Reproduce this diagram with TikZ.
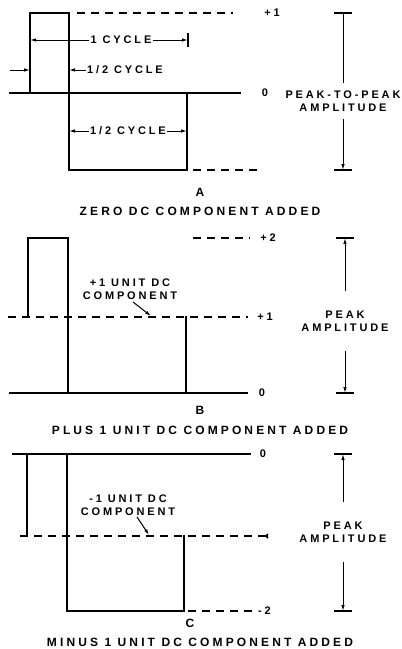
\documentclass[tikz,border=0pt]{standalone}
\usepackage{fontspec}
\newfontfamily\lett[LetterSpace=26]{Liberation Sans}
\usetikzlibrary{arrows.meta}
\tikzset{
  wave/.style={line width=1.7pt, line cap=rect},
  dline/.style={line width=1.3pt, dash pattern=on 8pt off 6pt},
  dim/.style={line width=1pt, -{Latex[length=6pt,width=3.5pt]}},
  tick/.style={line width=1.5pt},
  lbl/.style={inner sep=1pt, font=\lett\bfseries\fontsize{11}{13}\selectfont, align=center},
  ttl/.style={inner sep=1pt, font=\lett\bfseries\fontsize{12}{14}\selectfont, align=center},
}
\begin{document}
\begin{tikzpicture}[x=1pt,y=-1pt]
\useasboundingbox (0,0) rectangle (402,649);

% ================= Panel A =================
\draw[wave] (10,93) -- (240,93);
\draw[wave] (30,93) -- (30,13) -- (69,13) -- (69,170) -- (187,170) -- (187,93);
\draw[dline] (77,13) -- (233,13);
\draw[dline] (193,170) -- (258,170);
\node[lbl] (ap1) at (272,13) {+1};
\node[lbl] (az) at (265,93) {0};
% 1 cycle
\node[lbl] (cyc) at (121,40) {1 CYCLE};
\coordinate (cycL) at (30,40); \coordinate (cycR) at (188,40);
\draw[dim] (cyc.west) -- (cycL);
\draw[dim] (cyc.east) -- (cycR);
\draw[tick] (188,33) -- (188,47);
% 1/2 cycle upper
\node[lbl, anchor=west] (hc1) at (86,70) {1/2 CYCLE};
\coordinate (hc1t) at (69,70);
\draw[dim] (hc1.west) -- (hc1t);
\coordinate (inL) at (10,70); \coordinate (inR) at (30,70);
\draw[dim] (inL) -- (inR);
% 1/2 cycle lower
\node[lbl] (hc2) at (128,131) {1/2 CYCLE};
\coordinate (hc2L) at (69,131); \coordinate (hc2R) at (187,131);
\draw[dim] (hc2.west) -- (hc2L);
\draw[dim] (hc2.east) -- (hc2R);
% peak to peak
\node[lbl] (ppA) at (343,101) {PEAK-TO-PEAK\\AMPLITUDE};
\coordinate (ppAt) at (343,13); \coordinate (ppAb) at (343,170);
\draw[tick] (334,13) -- (352,13);
\draw[tick] (334,170) -- (352,170);
\draw[line width=1pt] (ppA.north) ++(0,-6) -- (ppAt);
\draw[dim] (ppA.south) ++(0,6) -- (ppAb);
\node[ttl] (capA) at (200,192) {A};
\node[ttl] (titA) at (200,211) {ZERO DC COMPONENT ADDED};

% ================= Panel B =================
\draw[wave] (10,393) -- (247,393);
\draw[wave] (28,317) -- (28,238) -- (68,238) -- (68,393);
\draw[wave] (186,317) -- (186,393);
\draw[dline] (8,317) -- (248,317);
\draw[dline] (193,238) -- (250,238);
\node[lbl] (bp2) at (268,238) {+2};
\node[lbl] (bp1) at (265,317) {+1};
\node[lbl] (bz) at (262,393) {0};
\node[lbl] (bdc) at (130,289) {+1 UNIT DC\\COMPONENT};
\coordinate (bdct) at (151,316);
\draw[dim] (133,302) -- (bdct);
\node[lbl] (pkB) at (345,321) {PEAK\\AMPLITUDE};
\coordinate (pkBt) at (345,238); \coordinate (pkBb) at (345,393);
\draw[tick] (336,238) -- (354,238);
\draw[tick] (336,393) -- (354,393);
\draw[dim] (pkB.north) ++(0,-18) -- (pkBt);
\draw[dim] (pkB.south) ++(0,18) -- (pkBb);
\node[ttl] (capB) at (200,410) {B};
\node[ttl] (titB) at (200,430) {PLUS 1 UNIT DC COMPONENT ADDED};

% ================= Panel C =================
\draw[wave] (13,454) -- (250,454);
\draw[wave] (27,454) -- (27,536);
\draw[wave] (67,454) -- (67,611) -- (184,611) -- (184,536);
\draw[dline, -{Latex[reversed,length=4pt,width=6pt]}] (20,536) -- (268,536);
\draw[dline] (188,611) -- (256,611);
\node[lbl, anchor=west] (cm2) at (257,611) {-2};
\node[lbl] (cz) at (263,454) {0};
\node[lbl] (cdc) at (128,505) {-1 UNIT DC\\COMPONENT};
\coordinate (cdct) at (149,535);
\draw[dim] (137,517) -- (cdct);
\node[lbl] (pkC) at (343,532) {PEAK\\AMPLITUDE};
\coordinate (pkCt) at (343,454); \coordinate (pkCb) at (343,611);
\draw[tick] (334,454) -- (352,454);
\draw[tick] (334,611) -- (352,611);
\draw[dim] (pkC.north) ++(0,-18) -- (pkCt);
\draw[dim] (pkC.south) ++(0,18) -- (pkCb);
\node[ttl] (capC) at (190,623) {C};
\node[ttl] (titC) at (200,642) {MINUS 1 UNIT DC COMPONENT ADDED};
\end{tikzpicture}
\end{document}
